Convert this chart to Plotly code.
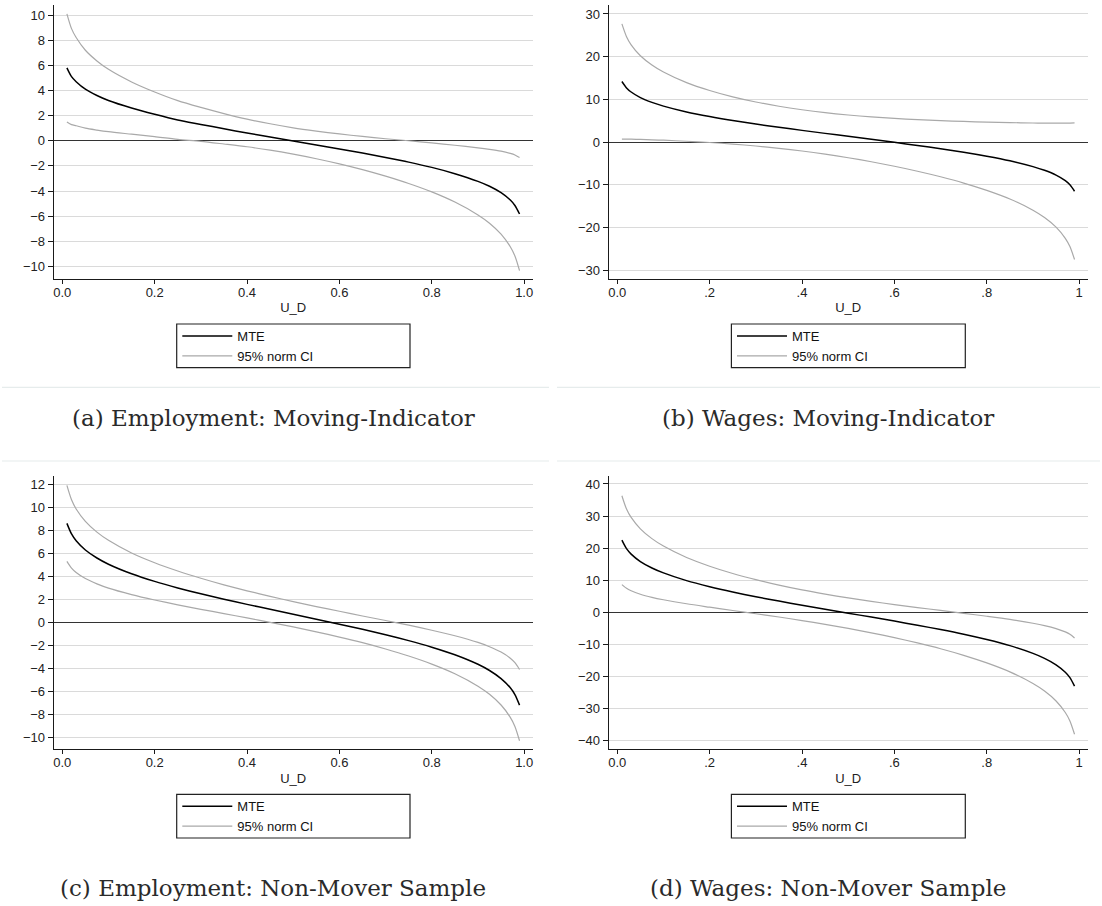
import plotly.graph_objects as go

W, H = 1102, 906

# U_D grid (x values)
u = [0.01, 0.02, 0.03, 0.05, 0.075, 0.1, 0.15, 0.2, 0.25, 0.3, 0.35, 0.4, 0.45, 0.5,
     0.55, 0.6, 0.65, 0.7, 0.75, 0.8, 0.85, 0.9, 0.925, 0.95, 0.97, 0.98, 0.99]

# (a) Employment: Moving-Indicator
a_mte = [5.8, 5.1, 4.7, 4.1, 3.6, 3.2, 2.6, 2.1, 1.65, 1.3, 0.95, 0.62, 0.3, -0.02,
         -0.33, -0.65, -0.98, -1.33, -1.7, -2.12, -2.62, -3.23, -3.62, -4.13, -4.72, -5.15, -5.83]
a_up = [10.1, 8.92, 8.21, 7.2, 6.35, 5.68, 4.68, 3.88, 3.19, 2.65, 2.16, 1.72, 1.35, 1.03,
        0.77, 0.54, 0.34, 0.16, 0.0, -0.17, -0.36, -0.56, -0.68, -0.83, -1.01, -1.13, -1.33]
a_lo = [1.5, 1.28, 1.19, 1.0, 0.85, 0.72, 0.52, 0.32, 0.11, -0.05, -0.26, -0.48, -0.75, -1.07,
        -1.43, -1.84, -2.3, -2.82, -3.4, -4.07, -4.88, -5.9, -6.56, -7.43, -8.43, -9.17, -10.33]

# (b) Wages: Moving-Indicator
b_mte = [14.19, 12.69, 11.73, 10.43, 9.3, 8.43, 7.07, 6.0, 5.07, 4.24, 3.48, 2.75, 2.05, 1.35,
         0.65, -0.05, -0.78, -1.54, -2.37, -3.3, -4.37, -5.73, -6.6, -7.73, -9.03, -9.99, -11.49]
b_up = [27.69, 24.69, 22.78, 20.23, 18.06, 16.41, 13.93, 12.09, 10.6, 9.39, 8.4, 7.58, 6.9, 6.35,
        5.9, 5.55, 5.25, 5.03, 4.84, 4.69, 4.57, 4.48, 4.46, 4.44, 4.45, 4.47, 4.51]
b_lo = [0.69, 0.69, 0.68, 0.63, 0.54, 0.45, 0.21, -0.09, -0.46, -0.91, -1.44, -2.08, -2.8, -3.65,
        -4.6, -5.65, -6.81, -8.11, -9.58, -11.29, -13.31, -15.94, -17.66, -19.9, -22.51, -24.45, -27.49]

# (c) Employment: Non-Mover Sample
c_mte = [8.6, 7.68, 7.09, 6.29, 5.59, 5.05, 4.22, 3.56, 2.99, 2.48, 2.01, 1.56, 1.13, 0.7,
         0.27, -0.16, -0.61, -1.08, -1.59, -2.16, -2.82, -3.65, -4.19, -4.89, -5.69, -6.28, -7.2]
c_up = [11.9, 10.65, 9.85, 8.78, 7.84, 7.13, 6.03, 5.18, 4.46, 3.83, 3.26, 2.74, 2.26, 1.8,
        1.37, 0.96, 0.55, 0.16, -0.25, -0.69, -1.17, -1.75, -2.12, -2.59, -3.12, -3.51, -4.1]
c_lo = [5.3, 4.71, 4.33, 3.8, 3.34, 2.97, 2.41, 1.94, 1.52, 1.13, 0.76, 0.38, 0.0, -0.4,
        -0.83, -1.28, -1.77, -2.32, -2.93, -3.63, -4.47, -5.55, -6.26, -7.19, -8.26, -9.05, -10.3]

# (d) Wages: Non-Mover Sample
d_mte = [22.5, 19.84, 18.15, 15.84, 13.83, 12.29, 9.88, 7.99, 6.34, 4.87, 3.52, 2.22, 0.98, -0.25,
         -1.48, -2.72, -4.02, -5.37, -6.84, -8.49, -10.38, -12.79, -14.33, -16.34, -18.65, -20.34, -23.0]
d_up = [36.35, 32.2, 29.58, 26.03, 22.97, 20.65, 17.09, 14.38, 12.11, 10.18, 8.5, 7.0, 5.69, 4.49,
        3.41, 2.43, 1.49, 0.6, -0.29, -1.22, -2.21, -3.4, -4.13, -5.06, -6.1, -6.84, -8.0]
d_lo = [8.65, 7.48, 6.72, 5.65, 4.69, 3.93, 2.67, 1.6, 0.57, -0.44, -1.46, -2.56, -3.73, -4.99,
        -6.37, -7.87, -9.53, -11.34, -13.39, -15.76, -18.55, -22.18, -24.53, -27.62, -31.2, -33.84, -38.0]

# tick labels
x_ticks = [0, 0.2, 0.4, 0.6, 0.8, 1.0]
x_text_emp = ["0.0", "0.2", "0.4", "0.6", "0.8", "1.0"]
x_text_wage = ["0.0", ".2", ".4", ".6", ".8", "1"]
y_ticks_a = [-10, -8, -6, -4, -2, 0, 2, 4, 6, 8, 10]
y_ticks_b = [-30, -20, -10, 0, 10, 20, 30]
y_ticks_c = [-10, -8, -6, -4, -2, 0, 2, 4, 6, 8, 10, 12]
y_ticks_d = [-40, -30, -20, -10, 0, 10, 20, 30, 40]

captions = ["(a) Employment: Moving-Indicator", "(b) Wages: Moving-Indicator",
            "(c) Employment: Non-Mover Sample", "(d) Wages: Non-Mover Sample"]
legend_names = ["MTE", "95% norm CI"]
x_title = "U_D"

SANS = "Liberation Sans, Arial, Helvetica, sans-serif"
SERIF = "DejaVu Serif, serif"
MTE_COLOR = "#000000"
CI_COLOR = "#a9a9a9"

def px_x(p):
    return p / W

def px_y(p):
    return 1 - p / H

# panel layout in pixels: (left, right, top, bottom)
panels = [
    dict(box=(53.7, 532.7, 5, 279), yr=[-11.0, 10.8], yt=y_ticks_a, xt=x_text_emp,
         mte=a_mte, up=a_up, lo=a_lo, leg=(177.3, 324, 410, 367.7), cap=(273, 418)),
    dict(box=(608.7, 1087.7, 5, 279), yr=[-32.04, 32.1], yt=y_ticks_b, xt=x_text_wage,
         mte=b_mte, up=b_up, lo=b_lo, leg=(732, 324, 965.3, 367.7), cap=(828, 418)),
    dict(box=(53.7, 532.7, 476, 749.3), yr=[-11.04, 12.72], yt=y_ticks_c, xt=x_text_emp,
         mte=c_mte, up=c_up, lo=c_lo, leg=(177.3, 794.3, 410, 838), cap=(273, 888)),
    dict(box=(608.7, 1087.7, 476, 749.3), yr=[-42.68, 42.49], yt=y_ticks_d, xt=x_text_wage,
         mte=d_mte, up=d_up, lo=d_lo, leg=(732, 794.3, 965.3, 838), cap=(828, 888)),
]

fig = go.Figure()
layout = dict(width=W, height=H, margin=dict(l=0, r=0, t=0, b=0),
              paper_bgcolor="white", plot_bgcolor="white", showlegend=True)
shapes = []
annotations = []

for i, p in enumerate(panels):
    n = "" if i == 0 else str(i + 1)
    xa, ya = "x" + n, "y" + n
    lg = "legend" + n
    l, r, t, b = p["box"]
    common_line = dict(mode="lines", line_shape="spline", xaxis=xa, yaxis=ya, legend=lg,
                       hoverinfo="skip")
    fig.add_trace(go.Scatter(x=u, y=p["mte"], name=legend_names[0],
                             line=dict(color=MTE_COLOR, width=1.5, smoothing=0.8), **common_line))
    fig.add_trace(go.Scatter(x=u, y=p["up"], name=legend_names[1],
                             line=dict(color=CI_COLOR, width=1.2, smoothing=0.8), **common_line))
    fig.add_trace(go.Scatter(x=u, y=p["lo"], name=legend_names[1], showlegend=False,
                             line=dict(color=CI_COLOR, width=1.2, smoothing=0.8), **common_line))

    layout["xaxis" + n] = dict(
        domain=[px_x(l), px_x(r)], anchor=ya, range=[-0.0186, 1.0185],
        tickmode="array", tickvals=x_ticks, ticktext=p["xt"],
        showgrid=False, zeroline=False, showline=True, linecolor="#1a1a1a", linewidth=1.2,
        ticks="outside", ticklen=4, tickwidth=1, tickcolor="#1a1a1a", ticklabelstandoff=-3,
        tickfont=dict(family=SANS, size=13, color="#222"),
        title=dict(text=x_title, font=dict(family=SANS, size=13, color="#222"), standoff=4),
        fixedrange=True)
    layout["yaxis" + n] = dict(
        domain=[px_y(b), px_y(t)], anchor=xa, range=p["yr"],
        tickmode="array", tickvals=p["yt"],
        showgrid=True, gridcolor="#dadada", gridwidth=1,
        zeroline=True, zerolinecolor="#333333", zerolinewidth=1.3,
        showline=True, linecolor="#1a1a1a", linewidth=1.2,
        ticks="outside", ticklen=5, tickwidth=1, tickcolor="#1a1a1a",
        tickfont=dict(family=SANS, size=13, color="#222"), fixedrange=True)

    ll, lt, lr, lb = p["leg"]
    shapes.append(dict(type="rect", xref="paper", yref="paper",
                       x0=px_x(ll - 0.6), x1=px_x(lr), y0=px_y(lb), y1=px_y(lt),
                       line=dict(color="#222", width=1.2), fillcolor="white", layer="above"))
    layout[lg] = dict(x=px_x(ll), y=px_y(lt - 3), xanchor="left", yanchor="top",
                      bgcolor="rgba(0,0,0,0)", borderwidth=0, itemwidth=50,
                      font=dict(family=SANS, size=13, color="#111"), tracegroupgap=0)

    cx, cy = p["cap"]
    annotations.append(dict(text=captions[i], xref="paper", yref="paper",
                            x=px_x(cx), y=px_y(cy), xanchor="center", yanchor="middle",
                            showarrow=False, font=dict(family=SERIF, size=23, color="#2a2a2a")))

# faint separator lines (subfigure borders)
for (x0, x1) in [(2, 549), (557, 1100)]:
    for yy in [387.3, 461]:
        shapes.append(dict(type="line", xref="paper", yref="paper",
                           x0=px_x(x0), x1=px_x(x1), y0=px_y(yy), y1=px_y(yy),
                           line=dict(color="#e6ecec", width=1.2), layer="below"))

layout["shapes"] = shapes
layout["annotations"] = annotations
fig.update_layout(**layout)
fig.write_html("out.html", config={"displayModeBar": False},
               post_script="document.body.style.margin='0px';document.body.style.overflow='hidden';")
